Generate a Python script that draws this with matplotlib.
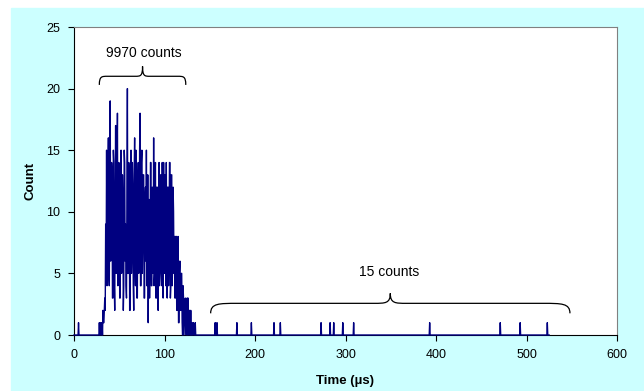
import numpy as np
import matplotlib.pyplot as plt
from matplotlib.path import Path
from matplotlib.patches import PathPatch, Rectangle

plt.rcParams['font.family'] = ['Liberation Sans', 'DejaVu Sans']

# histogram of arrival times, 0.5 us bins
bin_width = 0.5
t_max = 525
early_events = [5]
burst_start = 28
burst_counts = [1, 0, 0, 1, 1, 0, 1, 0, 2, 1, 1, 2, 3, 2, 9, 5, 15, 4, 6, 13,
                16, 5, 4, 12, 19, 6, 7, 14, 13, 3, 3, 15, 14, 4, 2, 11, 17, 5, 8, 13,
                18, 4, 5, 14, 12, 3, 3, 10, 15, 5, 6, 13, 11, 2, 4, 15, 14, 6, 9, 4,
                3, 12, 20, 5, 5, 14, 13, 2, 2, 9, 15, 5, 7, 14, 12, 4, 2, 13, 16, 6,
                4, 15, 11, 3, 3, 12, 14, 5, 6, 15, 18, 4, 4, 14, 15, 5, 8, 13, 13, 3,
                3, 11, 12, 6, 15, 4, 5, 13, 1, 8, 11, 3, 6, 14, 14, 4, 4, 12, 10, 5,
                16, 4, 5, 13, 14, 3, 3, 12, 12, 5, 2, 10, 14, 4, 6, 13, 13, 5, 4, 14,
                11, 3, 14, 6, 5, 13, 9, 4, 14, 5, 3, 12, 12, 4, 7, 14, 14, 3, 4, 13,
                13, 4, 6, 12, 10, 5, 8, 3, 3, 8, 8, 2, 2, 7, 8, 1, 1, 5, 6, 2,
                2, 5, 5, 1, 0, 4, 3, 0, 1, 2, 3, 1, 0, 2, 3, 0, 3, 1, 0, 2,
                1, 0, 2, 0, 1, 0, 0, 1, 1, 0, 0, 0, 1, 0, 0, 0]
late_events = [156, 158, 180, 196, 221, 228, 273, 283, 287, 297, 309, 393, 471, 493, 523]

n_bins = int(t_max / bin_width) + 1
times = np.arange(n_bins) * bin_width
counts = np.zeros(n_bins)
for t in early_events + late_events:
    counts[int(t / bin_width)] += 1
i0 = int(burst_start / bin_width)
counts[i0:i0 + len(burst_counts)] = burst_counts


def brace(ax, x0, x1, y_end, y_mid, y_tip, w_end, w_tip):
    """ Draw a horizontal curly brace opening downward """
    xm = (x0 + x1) / 2
    verts = [(x0, y_end), (x0, y_mid), (x0 + w_end * 0.3, y_mid), (x0 + w_end, y_mid),
             (xm - w_tip, y_mid),
             (xm - w_tip * 0.3, y_mid), (xm, y_mid), (xm, y_tip),
             (xm, y_mid), (xm + w_tip * 0.3, y_mid), (xm + w_tip, y_mid),
             (x1 - w_end, y_mid),
             (x1 - w_end * 0.3, y_mid), (x1, y_mid), (x1, y_end)]
    codes = [Path.MOVETO, Path.CURVE4, Path.CURVE4, Path.CURVE4, Path.LINETO,
             Path.CURVE4, Path.CURVE4, Path.CURVE4,
             Path.CURVE4, Path.CURVE4, Path.CURVE4, Path.LINETO,
             Path.CURVE4, Path.CURVE4, Path.CURVE4]
    ax.add_patch(PathPatch(Path(verts, codes), fill=False, color='black', lw=0.9))


fig = plt.figure(figsize=(6.44, 3.91), dpi=100)
fig.patches.append(Rectangle((11 / 644, 0), 633 / 644, 383 / 391,
                             transform=fig.transFigure, color='#CCFFFF', zorder=-10))
ax = fig.add_axes([74 / 644, 56 / 391, 543 / 644, 308 / 391])
ax.set_facecolor('white')

ax.plot(times, counts, color='#000080', lw=1.0, zorder=3, clip_on=False)

brace(ax, 28, 123.5, 20.3, 21.0, 21.8, 9, 8)
ax.text(77, 22.9, '9970 counts', ha='center', va='center', fontsize=10)
brace(ax, 151, 548, 1.76, 2.57, 3.38, 30, 18)
ax.text(348, 5.1, '15 counts', ha='center', va='center', fontsize=10)

ax.set_xlim(0, 600)
ax.set_ylim(0, 25)
ax.set_xticks(range(0, 601, 100))
ax.set_yticks(range(0, 26, 5))
ax.tick_params(direction='out', length=4, width=0.8, labelsize=9, pad=6)
ax.set_xlabel('Time (µs)', fontsize=9.5, fontweight='bold', labelpad=10)
ax.set_ylabel('Count', fontsize=9.5, fontweight='bold', labelpad=7)
for side in ['top', 'right']:
    ax.spines[side].set_color('#808080')
for side in ['left', 'bottom']:
    ax.spines[side].set_color('black')

fig.savefig('out.png', dpi=100)
